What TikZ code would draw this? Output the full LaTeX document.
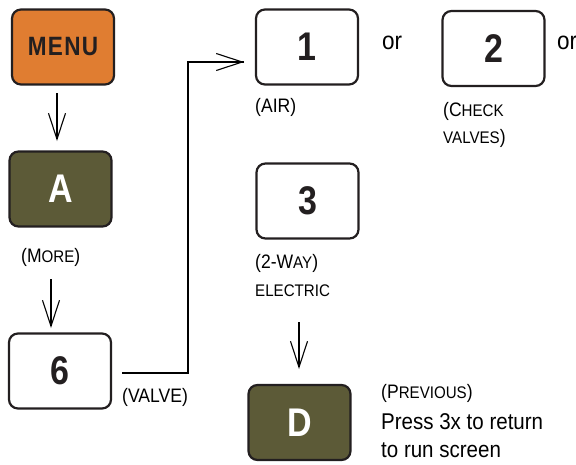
\documentclass[tikz,border=0pt]{standalone}
\usepackage{fontspec}
\setmainfont{Liberation Sans}[FakeStretch=0.9]
\newfontfamily\condbold{Liberation Sans Bold}[FakeStretch=0.85]
\usetikzlibrary{arrows.meta}
\definecolor{menuorange}{HTML}{E07D31}
\definecolor{olive}{HTML}{5C5A37}
\definecolor{boxline}{HTML}{231F20}
\newcommand\szBig{\fontsize{19.5}{22}\selectfont}
\newcommand\szSm{\fontsize{16.8}{20}\selectfont}
\begin{document}
\begin{tikzpicture}[x=1pt,y=-1pt,
  keybox/.style={draw=boxline, line width=2.2pt, rounded corners=9pt,
    minimum width=102pt, minimum height=75pt, inner sep=0pt,
    text=boxline, font=\condbold\fontsize{40}{41}\selectfont},
  darkkey/.style={keybox, fill=olive, text=white},
  arr/.style={line width=1.6pt, -{Straight Barb[length=26pt,width=17pt,line width=1.1pt]}},
  conn/.style={line width=1.6pt},
  lbl/.style={anchor=base west, inner sep=0pt, text=black, font=\szBig},
  txt/.style={anchor=base west, inner sep=0pt, text=black, font=\fontsize{22.8}{26}\selectfont},
  ortxt/.style={anchor=base west, inner sep=0pt, text=black, font=\fontsize{25}{28}\selectfont}]
\useasboundingbox (0,0) rectangle (576,464);

% keys
\node[keybox, fill=menuorange, font=\condbold\fontsize{26.5}{28}\selectfont\addfontfeature{LetterSpace=5}] (menu) at (63,47) {MENU};
\node[darkkey] (a) at (60.5,189) {A};
\node[keybox] (six) at (60,371) {6};
\node[keybox] (one) at (307,47) {1};
\node[keybox] (two) at (493.5,48.5) {2};
\node[keybox] (three) at (307.5,201) {3};
\node[darkkey] (d) at (299.5,422.5) {D};

% labels
\node[lbl] (more) at (21,262) {(M{\szSm ORE})};
\node[lbl] (air) at (255,112) {(AIR)};
\node[lbl] (check) at (443,116) {(C{\szSm HECK}};
\node[lbl] (valves) at (443,143) {{\szSm VALVES})};
\node[ortxt] (or1) at (382,49) {or};
\node[ortxt] (or2) at (557,49) {or};
\node[lbl] (way) at (255,268) {(2-W{\szSm AY})};
\node[lbl, font=\szSm] (elec) at (255,296) {ELECTRIC};
\node[lbl] (valve) at (122,402) {(VALVE)};
\node[lbl] (prev) at (381,398) {(P{\szSm REVIOUS})};
\node[txt] (press) at (381,429) {Press 3x to return};
\node[txt] (run) at (381,457) {to run screen};

% connectors
\coordinate (m1) at (57,93);
\coordinate (m2) at (57,141);
\draw[arr] (m1) -- (m2);
\coordinate (s1) at (51,279);
\coordinate (s2) at (51,328);
\draw[arr] (s1) -- (s2);
\coordinate (v0) at (122,373);
\coordinate (v1) at (188,373);
\coordinate (v2) at (188,62);
\coordinate (v3) at (244,62);
\draw[conn] (v0) -- (v1) -- (v2) -- (v3);
\draw[arr] (v2) -- (v3);
\coordinate (t1) at (299,322);
\coordinate (t2) at (299,369);
\draw[arr] (t1) -- (t2);
\end{tikzpicture}
\end{document}
